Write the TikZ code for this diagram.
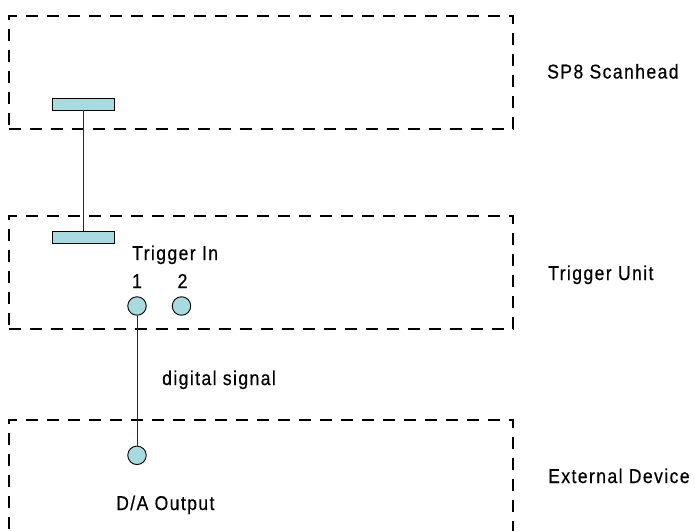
\documentclass[tikz,border=0pt]{standalone}
\usepackage{fontspec}
\setmainfont{Liberation Sans}[LetterSpace=7,FakeStretch=0.88,FakeBold=0.5]
\definecolor{portfill}{RGB}{168,219,224}
\definecolor{wire}{RGB}{40,40,40}
\begin{document}
\begin{tikzpicture}[x=1pt,y=-1pt,
  unitbox/.style={draw=black,line width=2pt,dash pattern=on 12pt off 9pt,minimum width=504pt,minimum height=113pt,inner sep=0pt,anchor=north west},
  plug/.style={draw=black,line width=0.9pt,fill=portfill,minimum width=62pt,minimum height=12pt,inner sep=0pt},
  port/.style={circle,draw=black,line width=0.9pt,fill=portfill,minimum size=18.5pt,inner sep=0pt},
  wireline/.style={draw=wire,line width=1pt},
  lbl/.style={anchor=base west,inner sep=0pt,font=\fontsize{20}{24}\selectfont}]
\useasboundingbox (0,0) rectangle (695,530);
\clip (0,0) rectangle (695,530);
% unit boxes
\node[unitbox] (scanhead) at (7.5,15) {};
\node[unitbox] (trigunit) at (7.5,215) {};
\node[unitbox] (extdev) at (7.5,418.5) {};
% plugs
\node[plug] (plugA) at (83,104) {};
\node[plug] (plugB) at (83,237.5) {};
% ports
\node[port] (in1) at (137,306) {};
\node[port] (in2) at (181.5,306) {};
\node[port] (daout) at (137,455.3) {};
% connectors
\draw[wireline] (plugA.south) -- (plugB.north);
\draw[wireline] (in1.south) -- (daout.north);
% labels
\node[lbl] (lscan) at (547,78.5) {SP8 Scanhead};
\node[lbl] (lunit) at (548,280) {Trigger Unit};
\node[lbl] (lext) at (548,483) {External Device};
\node[lbl] (ltrig) at (132,260) {Trigger In};
\node[lbl,anchor=base] (l1) at (137,288) {1};
\node[lbl,anchor=base] (l2) at (182.5,288) {2};
\node[lbl] (ldig) at (162,385) {digital signal};
\node[lbl] (lda) at (116,510) {D/A Output};
\end{tikzpicture}
\end{document}
